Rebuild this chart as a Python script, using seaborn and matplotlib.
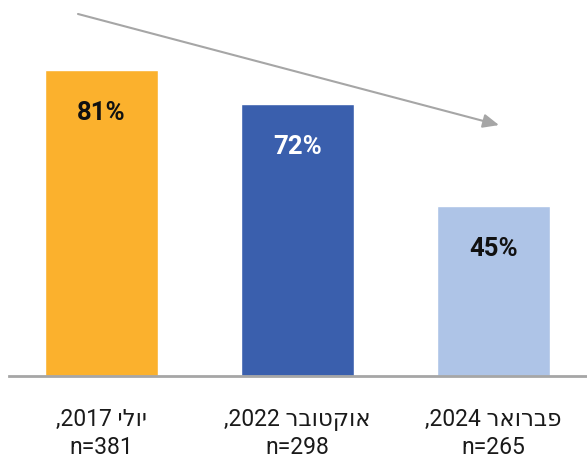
import matplotlib
matplotlib.use("Agg")
import matplotlib.pyplot as plt
import seaborn as sns
import pandas as pd

months = ['יולי', 'אוקטובר', 'פברואר']
years = ['2017', '2022', '2024']
n_values = [381, 298, 265]
values = [81, 72, 45]
colors = ['#FBB12D', '#3A5FAD', '#AEC4E7']
label_colors = ['#111111', '#FFFFFF', '#111111']

# visual-order labels (matplotlib has no bidi support)
categories = [f",{y} {m[::-1]}\nn={n}" for m, y, n in zip(months, years, n_values)]

df = pd.DataFrame({'cat': categories, 'val': values})

sns.set_theme(style='white')
plt.rcParams['font.family'] = ['Roboto', 'DejaVu Sans']

fig = plt.figure(figsize=(5.87, 4.59), dpi=100)
ax = fig.add_axes([9/587, 83/459, 578/587, 376/459])

sns.barplot(data=df, x='cat', y='val', hue='cat', palette=colors,
            legend=False, width=0.577, ax=ax, saturation=1)

ax.set_xlim(-0.472, 2.477)
ax.set_ylim(0, 99.5)
ax.set_xlabel('')
ax.set_ylabel('')
ax.set_yticks([])
for s in ['top', 'right', 'left']:
    ax.spines[s].set_visible(False)
ax.spines['bottom'].set_color('#A6A6A6')
ax.spines['bottom'].set_linewidth(2)
ax.tick_params(axis='x', length=0, pad=23, labelsize=16.5, labelcolor='#1a1a1a')
for t in ax.get_xticklabels():
    t.set_linespacing(1.3)

for i, (v, c) in enumerate(zip(values, label_colors)):
    ax.text(i, v - 11.3, f"{v}%", ha='center', va='center', fontsize=18.5,
            fontweight='bold', color=c)

ax.annotate('', xy=(2.028, 66.4), xytext=(-0.12, 95.8),
            arrowprops=dict(arrowstyle='-|>,head_length=0.8,head_width=0.35',
                            color='#A6A6A6', lw=1.5, shrinkA=0, shrinkB=0),
            annotation_clip=False)

fig.savefig('out.png', dpi=100)
